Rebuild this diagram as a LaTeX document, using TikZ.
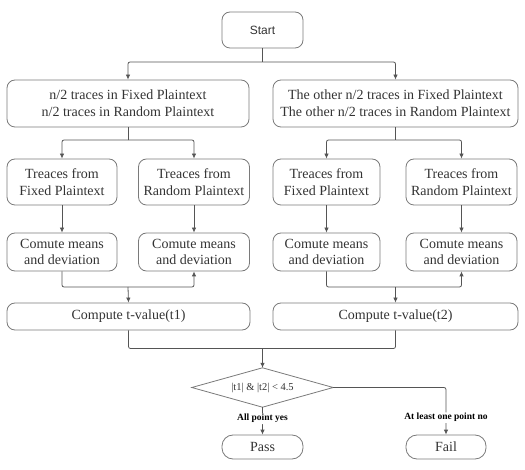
\documentclass[tikz,border=0pt]{standalone}
\usepackage{fontspec}
\setmainfont{Liberation Serif}
\newfontfamily\startfont{Liberation Sans}
\usetikzlibrary{arrows.meta}
\definecolor{ln}{HTML}{555555}
\definecolor{bd}{HTML}{7A7A7A}
\definecolor{tx}{HTML}{333333}
\tikzset{
  box/.style={draw=bd, line width=0.8pt, rounded corners=8pt, align=center, text=tx,
    font=\fontsize{14}{16.7}\selectfont, inner sep=0pt},
  conn/.style={draw=ln, line width=0.8pt, rounded corners=2pt},
  arr/.style={conn, -{Latex[length=5pt,width=4.5pt]}},
  lbl/.style={fill=white, inner sep=1pt, text=black, font=\fontsize{9.5}{11}\selectfont\bfseries}
}
\begin{document}
\begin{tikzpicture}[x=1pt,y=-1pt]
\useasboundingbox (0,0) rectangle (525,470);
\node[box, minimum width=81, minimum height=36, font=\startfont\fontsize{12}{14}\selectfont] (start) at (262.5,30) {Start};
\node[box, minimum width=242, minimum height=47] (l1) at (128,103.5) {n/2 traces in Fixed Plaintext\\n/2 traces in Random Plaintext};
\node[box, minimum width=245, minimum height=47] (r1) at (395.5,103.5) {The other n/2 traces in Fixed Plaintext\\The other n/2 traces in Random Plaintext};
\node[box, minimum width=110, minimum height=46] (a2) at (62,182) {Treaces from\\Fixed Plaintext};
\node[box, minimum width=111, minimum height=46] (b2) at (194,182) {Treaces from\\Random Plaintext};
\node[box, minimum width=107, minimum height=46] (c2) at (326.5,182) {Treaces from\\Fixed Plaintext};
\node[box, minimum width=111, minimum height=46] (d2) at (461.5,182) {Treaces from\\Random Plaintext};
\node[box, minimum width=110, minimum height=38] (a3) at (62,252) {Comute means\\and deviation};
\node[box, minimum width=111, minimum height=38] (b3) at (194,252) {Comute means\\and deviation};
\node[box, minimum width=107, minimum height=38] (c3) at (326.5,252) {Comute means\\and deviation};
\node[box, minimum width=111, minimum height=38] (d3) at (461.5,252) {Comute means\\and deviation};
\node[box, minimum width=243, minimum height=27] (cl) at (128.5,316.5) {Compute t-value(t1)};
\node[box, minimum width=245, minimum height=27] (cr) at (395.5,316.5) {Compute t-value(t2)};
\node[minimum width=141, minimum height=39, inner sep=0pt] (dia) at (262.5,387.5) {};
\node[box, rounded corners=11pt, minimum width=81, minimum height=24, font=\fontsize{14}{16}\selectfont] (pass) at (262.5,447) {Pass};
\node[box, rounded corners=11pt, minimum width=80, minimum height=24, font=\fontsize{14}{16}\selectfont] (fail) at (446,447) {Fail};
% connectors
\coordinate (s1) at (262.5,62);
\draw[conn] (start.south) -- (s1);
\draw[arr] (s1) -| (l1.north);
\draw[arr] (s1) -| (r1.north);
\coordinate (s2) at (128,140);
\draw[conn] (l1.south) -- (s2);
\draw[arr] (s2) -| (a2.north);
\draw[arr] (s2) -| (b2.north);
\coordinate (s3) at (395.5,140);
\draw[conn] (r1.south) -- (s3);
\draw[arr] (s3) -| (c2.north);
\draw[arr] (s3) -| (d2.north);
\draw[arr] (a2) -- (a3);
\draw[arr] (b2) -- (b3);
\draw[arr] (c2) -- (c3);
\draw[arr] (d2) -- (d3);
\coordinate (j1) at (128,287);
\draw[arr] (a3.south) |- (j1) -| (b3.south);
\draw[arr] (j1) -- (cl.north);
\coordinate (j2) at (395.5,287);
\draw[arr] (c3.south) |- (j2) -| (d3.south);
\draw[arr] (j2) -- (cr.north);
\coordinate (j3) at (262.5,348.5);
\draw[conn] (cl.south) |- (j3) -| (cr.south);
\draw[arr] (j3) -- (dia.north);
% diamond
\draw[draw=bd, line width=0.8pt] (dia.north) -- (dia.east) -- (dia.south) -- (dia.west) -- cycle;
\node[text=tx, font=\fontsize{10.5}{12}\selectfont] at (dia.center) {|t1| \& |t2| < 4.5};
\draw[arr] (dia.south) -- node[lbl, pos=0.42] {All point yes} (pass.north);
\coordinate (k1) at (446,387.5);
\draw[arr] (dia.east) -- (k1) -- node[lbl, pos=0.64] {At least one point no} (fail.north);
\end{tikzpicture}
\end{document}
